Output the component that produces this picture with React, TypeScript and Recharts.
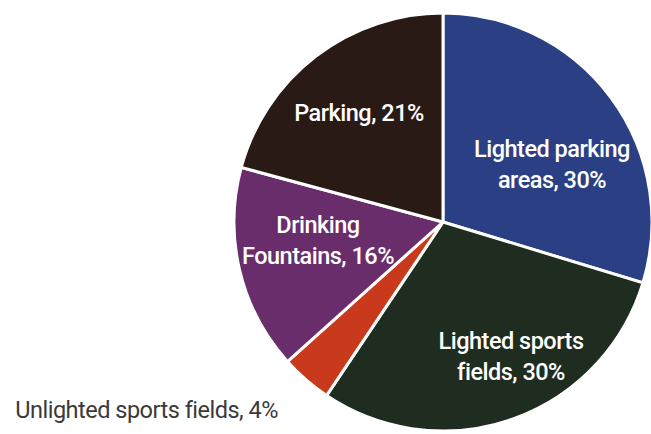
import { PieChart, Pie, Cell } from 'recharts'

const categories = [
  'Lighted parking areas',
  'Lighted sports fields',
  'Unlighted sports fields',
  'Drinking Fountains',
  'Parking',
]
const shares = [30, 30, 4, 16, 21]
const labelLines = [
  ['Lighted parking', 'areas, 30%'],
  ['Lighted sports', 'fields, 30%'],
  ['Unlighted sports fields, 4%'],
  ['Drinking', 'Fountains, 16%'],
  ['Parking, 21%'],
]
const colors = ['#2b3f85', '#1f2c20', '#c93a1c', '#6a2d6b', '#2a1a16']

const data = categories.map((name, i) => ({ name, value: shares[i] }))

// label anchor offsets from the pie centre
const labelOffsets: [number, number][] = [
  [109, -58],
  [68, 134],
  [-165, 188],
  [-125, 18],
  [-84, -109],
]

const font = 'Roboto, "Noto Sans", sans-serif'

function renderLabel(props: any) {
  const { cx, cy, index } = props
  const [dx, dy] = labelOffsets[index]
  const lines = labelLines[index]
  const outside = index === 2
  const lh = 31
  const y0 = cy + dy - ((lines.length - 1) * lh) / 2
  return (
    <text
      x={cx + dx}
      y={y0}
      fill={outside ? '#3a3a3a' : '#ffffff'}
      textAnchor={outside ? 'end' : 'middle'}
      dominantBaseline="central"
      fontFamily={font}
      fontSize={outside ? 23.5 : 23.5}
      fontWeight={outside ? 400 : 500}
      style={{ letterSpacing: '-0.5px' }}
    >
      {lines.map((l, j) => (
        <tspan key={j} x={cx + dx} dy={j === 0 ? 0 : lh}>
          {l}
        </tspan>
      ))}
    </text>
  )
}

export default function App() {
  return (
    <div style={{ position: 'absolute', left: 0, top: 0, background: '#fff' }}>
      <PieChart width={651} height={434} margin={{ top: 0, right: 0, bottom: 0, left: 0 }}>
        <Pie
          data={data}
          dataKey="value"
          nameKey="name"
          cx={443}
          cy={222}
          outerRadius={209}
          startAngle={90}
          endAngle={-270}
          stroke="#ffffff"
          strokeWidth={3}
          label={renderLabel}
          labelLine={false}
          isAnimationActive={false}
        >
          {data.map((d, i) => (
            <Cell key={d.name} fill={colors[i]} />
          ))}
        </Pie>
      </PieChart>
    </div>
  )
}
